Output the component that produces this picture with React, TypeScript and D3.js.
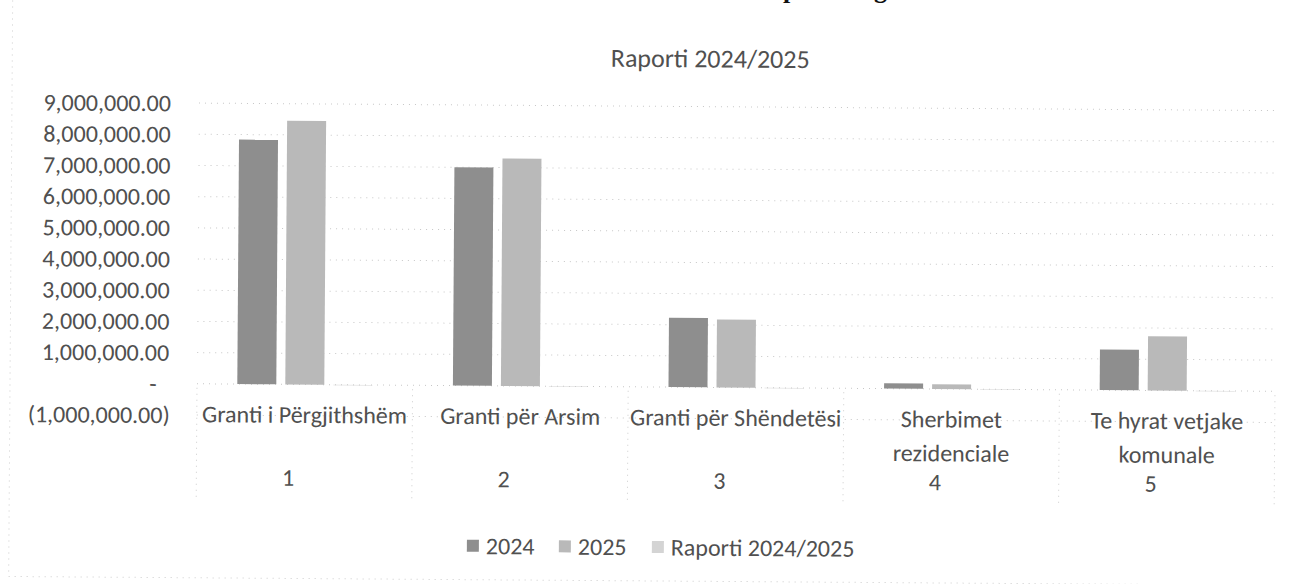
import React, { useEffect, useRef } from 'react';
import * as d3 from 'd3';

const categories = ["Granti i Përgjithshëm", "Granti për Arsim", "Granti për Shëndetësi", "Sherbimet rezidenciale", "Te hyrat vetjake komunale"];
const categoryLines = [["Granti i Përgjithshëm"], ["Granti për Arsim"], ["Granti për Shëndetësi"], ["Sherbimet", "rezidenciale"], ["Te hyrat vetjake", "komunale"]];
const groupLabels = ["1", "2", "3", "4", "5"];
const seriesNames = ["2024", "2025", "Raporti 2024/2025"];
const values2024 = [7840000, 7000000, 2220000, 170000, 1300000];
const values2025 = [8450000, 7290000, 2180000, 150000, 1740000];
const valuesRatio = [1.08, 1.04, 0.98, 0.88, 1.34];
const yTicks = [-1000000, 0, 1000000, 2000000, 3000000, 4000000, 5000000, 6000000, 7000000, 8000000, 9000000];

const FONT = "Carlito, Calibri, Lato, sans-serif";
const TEXT = "#505050";

const App: React.FC = () => {
  const svgRef = useRef<SVGSVGElement>(null);

  useEffect(() => {
    if (!svgRef.current) return;
    const width = 1303;
    const height = 584;
    const svg = d3.select(svgRef.current);
    svg.selectAll("*").remove();

    svg.append("rect").attr("width", width).attr("height", height).attr("fill", "white");

    // scanned page is slightly tilted
    const g = svg.append("g").attr("transform", "rotate(0.4, 230, 384)");

    // chart border (faint)
    g.append("line").attr("x1", 10).attr("x2", 10).attr("y1", -10).attr("y2", 578)
      .attr("stroke", "#cccccc").attr("stroke-dasharray", "1 5");
    g.append("line").attr("x1", 10).attr("x2", 1310).attr("y1", 578).attr("y2", 578)
      .attr("stroke", "#cccccc").attr("stroke-dasharray", "1 5");

    const x0 = d3.scaleBand<string>().domain(categories).range([197, 1275]).padding(0);
    const clusterW = 135;
    const x1 = d3.scaleBand<string>().domain(seriesNames).range([0, clusterW]).paddingInner(0.1875).paddingOuter(0);
    const y = d3.scaleLinear().domain([-1000000, 9000000]).range([415.2, 103.3]);

    // gridlines
    g.append("g").selectAll("line").data(yTicks).join("line")
      .attr("x1", 197).attr("x2", 1275)
      .attr("y1", d => y(d)).attr("y2", d => y(d))
      .attr("stroke", "#c6c6c6").attr("stroke-width", 1).attr("stroke-dasharray", "1 5");

    // y labels (accounting format)
    const fmt = d3.format(",.2f");
    g.append("g").selectAll("text").data(yTicks).join("text")
      .attr("x", d => d < 0 ? 170 : d === 0 ? 153 : 169)
      .attr("y", d => y(d))
      .attr("dy", "0.35em")
      .attr("text-anchor", d => d === 0 ? "middle" : "end")
      .attr("font-family", FONT).attr("font-size", 24).attr("fill", TEXT)
      .text(d => d < 0 ? `(${fmt(-d)})` : d === 0 ? "-" : fmt(d));

    // category dividers (multi-level axis)
    const bounds = categories.map(c => x0(c) as number).concat([1275]);
    g.append("g").selectAll("line").data(bounds).join("line")
      .attr("x1", d => d).attr("x2", d => d)
      .attr("y1", y(0) + 4).attr("y2", 500)
      .attr("stroke", "#cccccc").attr("stroke-dasharray", "1 5");

    // bars
    const seriesData = [values2024, values2025, valuesRatio];
    const colors = ["#8e8e8e", "#b9b9b9", "#d4d4d4"];
    seriesNames.forEach((s, si) => {
      g.append("g").selectAll("rect").data(seriesData[si]).join("rect")
        .attr("x", (d, i) => (x0(categories[i]) as number) + (x0.bandwidth() - clusterW) / 2 + (x1(s) as number))
        .attr("width", x1.bandwidth())
        .attr("y", d => y(Math.max(0, d)))
        .attr("height", d => Math.max(0.5, Math.abs(y(d) - y(0))))
        .attr("fill", colors[si]);
    });

    // category labels
    const labelG = g.append("g").attr("font-family", FONT).attr("font-size", 24).attr("fill", TEXT).attr("text-anchor", "middle");
    categoryLines.forEach((lines, i) => {
      const cx = (x0(categories[i]) as number) + x0.bandwidth() / 2;
      lines.forEach((ln, li) => {
        labelG.append("text").attr("x", cx).attr("y", 414 + li * 34).attr("dy", "0.35em").text(ln);
      });
      labelG.append("text").attr("x", cx - 16).attr("y", 477).attr("dy", "0.35em").text(groupLabels[i]);
    });

    // title
    g.append("text").attr("x", 708).attr("y", 55).attr("dy", "0.35em")
      .attr("text-anchor", "middle").attr("font-family", FONT).attr("font-size", 26).attr("fill", TEXT)
      .text("Raporti 2024/2025");

    // legend
    const legendX = [468, 560, 653];
    const leg = g.append("g").attr("font-family", FONT).attr("font-size", 24).attr("fill", TEXT);
    seriesNames.forEach((s, si) => {
      leg.append("rect").attr("x", legendX[si]).attr("y", 538).attr("width", 12).attr("height", 12)
        .attr("fill", colors[si]);
      leg.append("text").attr("x", legendX[si] + 19).attr("y", 544).attr("dy", "0.35em").text(s);
    });

    // cut-off heading text from the page above
    svg.append("text").attr("x", 783).attr("y", -2).attr("font-family", "Liberation Serif, serif")
      .attr("font-weight", "bold").attr("font-size", 26).attr("fill", "#111").text("p");
    svg.append("text").attr("x", 874).attr("y", -2).attr("font-family", "Liberation Serif, serif")
      .attr("font-weight", "bold").attr("font-size", 26).attr("fill", "#111").text("g");
  }, []);

  return <svg ref={svgRef} width={1303} height={584} style={{ position: "absolute", left: 0, top: 0 }} />;
};

export default App;
